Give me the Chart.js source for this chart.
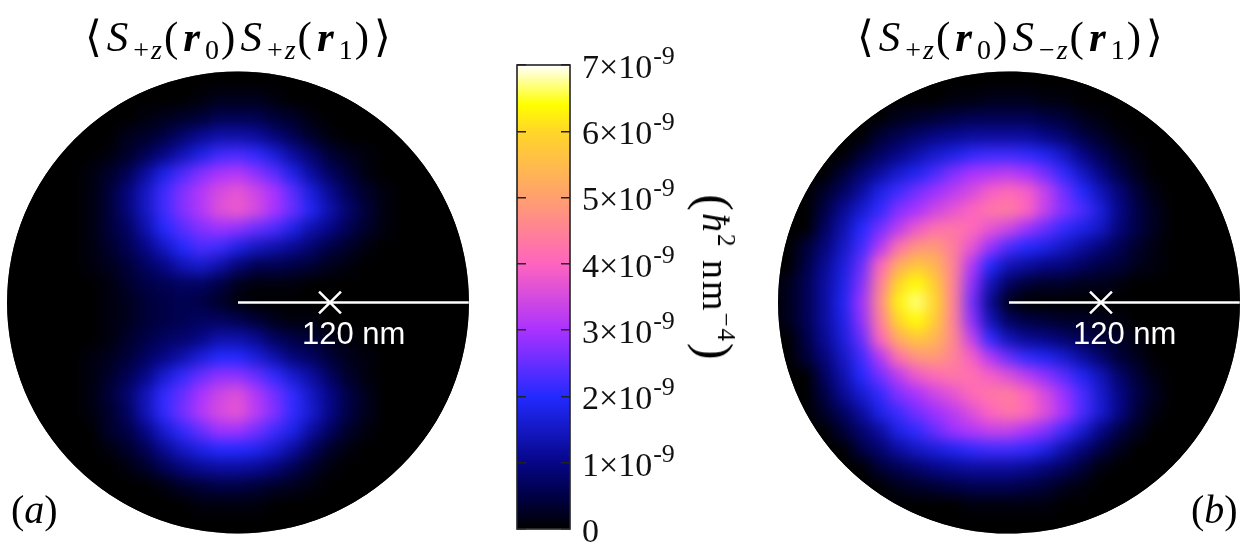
<!DOCTYPE html>
<html><head><meta charset="utf-8">
<script src="https://cdn.jsdelivr.net/npm/chart.js@4"></script>
<style>
html,body{margin:0;padding:0;background:#fff;width:1250px;height:556px;overflow:hidden}
canvas{position:absolute;display:block}
#clip{position:absolute;left:0;top:0;width:1250px;height:556px;background:#000;
clip-path:path("M 7 302.5 a 231 231 0 1 0 462 0 a 231 231 0 1 0 -462 0 Z M 778 302.5 a 231 231 0 1 0 462 0 a 231 231 0 1 0 -462 0 Z")}
#heat{left:0;top:0;filter:blur(7px)}
#over{left:0;top:0}
#bar{left:490px;top:40px}
.t{position:absolute;font-family:"Liberation Serif","DejaVu Serif",serif;color:#000;white-space:nowrap;line-height:1}
.nm{position:absolute;font-family:"Liberation Sans",Arial,sans-serif;color:#fff;font-size:31px;line-height:1;white-space:nowrap}
.t i{font-style:italic}.t b{font-style:italic;font-weight:bold}
.t sub{font-size:28px;vertical-align:baseline;position:relative;top:8px;line-height:0;letter-spacing:2px}
.t sup{font-size:25px;vertical-align:baseline;position:relative;top:-15px;line-height:0}
.ti{letter-spacing:5px}
.par{font-size:50px;vertical-align:baseline;position:relative;top:5px}
</style></head><body>
<div id="clip"><canvas id="heat" width="1250" height="556"></canvas></div>
<canvas id="over" width="1250" height="556"></canvas>
<canvas id="bar" width="240" height="510"></canvas>
<div class="t ti" style="left:85px;top:15px;font-size:43px">⟨<i>S</i><sub>+<i>z</i></sub>(<b>r</b><sub>0</sub>)<i>S</i><sub>+<i>z</i></sub>(<b>r</b><sub>1</sub>)⟩</div>
<div class="t ti" style="left:857px;top:15px;font-size:43px">⟨<i>S</i><sub>+<i>z</i></sub>(<b>r</b><sub>0</sub>)<i>S</i><sub>−<i>z</i></sub>(<b>r</b><sub>1</sub>)⟩</div>
<div class="t" style="left:11px;top:490px;font-size:40px">(<i>a</i>)</div>
<div class="t" style="left:1191px;top:490px;font-size:40px">(<i>b</i>)</div>
<div class="nm" style="left:302px;top:318px">120 nm</div>
<div class="nm" style="left:1073px;top:318px">120 nm</div>
<div class="t" style="left:720px;top:278px;font-size:38px;letter-spacing:2px;transform:translate(-50%,-50%) rotate(90deg)"><span class="par">(</span><i>ħ</i><sup>2</sup> nm<sup>−4</sup><span class="par">)</span></div>
<script>
// Correlation maps, read by eye, in units of 1e-10 (hbar^2 nm^-4). Rows run top to bottom, columns left to right.
const cellSpacingNm = 24;
const mapA = [
[0,0,0,0,0,0,0,0,0,0,0,0,0,0,0,0,0,0,0,0,0,0,0,0,0],
[0,0,0,0,0,0,0,0,0,0,1,2,2,2,1,0,0,0,0,0,0,0,0,0,0],
[0,0,0,0,0,0,0,1,2,3,4,6,6,6,4,3,1,0,0,0,0,0,0,0,0],
[0,0,0,0,0,0,2,3,5,8,11,13,13,12,9,6,3,1,0,0,0,0,0,0,0],
[0,0,0,0,0,1,3,6,10,14,18,22,23,21,17,12,8,4,2,1,0,0,0,0,0],
[0,0,0,0,1,3,6,12,18,23,27,30,31,28,24,18,12,7,4,1,0,0,0,0,0],
[0,0,0,0,1,4,9,15,22,27,31,35,37,34,30,24,17,11,6,3,1,0,0,0,0],
[0,0,0,0,1,4,9,15,22,27,31,36,38,35,30,25,19,13,8,4,1,0,0,0,0],
[0,0,0,0,1,4,7,13,20,24,27,29,28,25,23,18,13,10,6,3,1,0,0,0,0],
[0,0,0,0,1,3,6,10,15,20,23,22,18,15,13,11,8,5,3,1,0,0,0,0,0],
[0,0,0,0,1,2,4,7,10,14,16,13,9,6,6,5,4,2,1,0,0,0,0,0,0],
[0,0,0,0,0,1,3,5,6,7,7,5,2,1,1,1,0,0,0,0,0,0,0,0,0],
[0,0,0,0,0,1,2,4,5,6,5,3,1,0,0,0,0,0,0,0,0,0,0,0,0],
[0,0,0,0,0,1,2,4,5,6,7,7,6,4,2,1,1,0,0,0,0,0,0,0,0],
[0,0,0,0,0,1,3,5,7,8,10,13,13,11,7,5,4,2,1,0,0,0,0,0,0],
[0,0,0,0,1,2,4,7,10,13,17,20,20,17,13,9,7,4,2,1,0,0,0,0,0],
[0,0,0,0,1,3,6,10,16,21,25,28,28,25,21,16,12,7,3,1,0,0,0,0,0],
[0,0,0,0,1,4,8,14,21,25,30,34,36,31,26,21,15,10,5,2,0,0,0,0,0],
[0,0,0,0,1,3,7,14,21,26,31,35,37,32,27,21,16,10,5,2,0,0,0,0,0],
[0,0,0,0,0,3,5,10,16,21,25,29,29,26,22,18,12,7,3,1,0,0,0,0,0],
[0,0,0,0,0,1,3,6,11,15,18,20,20,19,16,12,7,3,1,0,0,0,0,0,0],
[0,0,0,0,0,0,1,3,6,9,11,12,12,11,9,6,3,1,0,0,0,0,0,0,0],
[0,0,0,0,0,0,0,0,1,3,4,5,5,4,3,2,1,0,0,0,0,0,0,0,0],
[0,0,0,0,0,0,0,0,0,0,1,1,1,1,0,0,0,0,0,0,0,0,0,0,0],
[0,0,0,0,0,0,0,0,0,0,0,0,0,0,0,0,0,0,0,0,0,0,0,0,0]
];
const mapB = [
[0,0,0,0,0,0,0,0,0,0,0,0,0,0,0,0,0,0,0,0,0,0,0,0,0],
[0,0,0,0,0,0,0,0,0,1,1,2,2,2,1,1,0,0,0,0,0,0,0,0,0],
[0,0,0,0,0,0,2,3,4,5,6,6,6,6,5,4,2,1,0,0,0,0,0,0,0],
[0,0,0,0,0,4,6,8,10,11,12,12,12,12,10,8,5,3,1,0,0,0,0,0,0],
[0,0,0,0,4,7,10,13,16,18,21,22,22,21,19,15,10,6,3,1,0,0,0,0,0],
[0,0,0,4,8,12,16,19,23,27,30,31,32,30,26,21,15,10,5,2,0,0,0,0,0],
[0,0,3,7,12,18,22,26,29,32,35,39,41,39,33,26,20,14,9,4,1,0,0,0,0],
[0,0,5,11,16,21,27,30,34,37,40,43,44,40,33,27,23,17,10,5,2,0,0,0,0],
[0,0,7,13,20,26,32,38,42,43,41,37,34,29,25,21,18,15,9,5,2,0,0,0,0],
[0,4,9,15,22,31,42,48,49,44,37,29,23,20,18,15,12,9,6,3,1,0,0,0,0],
[0,5,11,17,25,40,52,57,54,45,31,20,14,12,10,9,7,5,4,2,1,0,0,0,0],
[2,6,12,18,27,44,60,64,58,45,28,14,7,4,3,3,2,2,1,0,0,0,0,0,0],
[2,6,12,19,29,46,63,67,60,45,26,11,2,0,0,0,0,0,0,0,0,0,0,0,0],
[2,6,12,18,28,44,60,64,58,45,28,14,7,5,4,3,3,2,1,0,0,0,0,0,0],
[0,5,11,17,25,40,52,57,54,46,33,21,14,11,10,8,6,4,3,1,0,0,0,0,0],
[0,4,9,15,22,31,42,48,49,45,39,31,25,21,19,16,12,8,4,2,0,0,0,0,0],
[0,0,7,13,20,26,32,38,41,43,42,39,36,32,28,24,19,14,8,4,1,0,0,0,0],
[0,0,5,11,16,21,27,30,34,37,41,43,44,40,35,29,23,16,10,5,2,0,0,0,0],
[0,0,3,7,12,18,22,26,29,32,36,40,43,41,36,30,23,16,10,4,1,0,0,0,0],
[0,0,0,4,8,12,18,21,25,29,31,33,33,30,27,22,16,10,5,2,0,0,0,0,0],
[0,0,0,0,5,8,12,15,17,19,21,22,22,21,18,13,9,5,2,0,0,0,0,0,0],
[0,0,0,0,0,4,6,8,10,11,12,12,12,11,9,7,4,1,0,0,0,0,0,0,0],
[0,0,0,0,0,0,2,3,4,5,6,6,6,5,4,2,1,0,0,0,0,0,0,0,0],
[0,0,0,0,0,0,0,0,0,0,1,1,1,1,1,0,0,0,0,0,0,0,0,0,0],
[0,0,0,0,0,0,0,0,0,0,0,0,0,0,0,0,0,0,0,0,0,0,0,0,0]
];
const barTicks = [0,1,2,3,4,5,6,7];               // x 1e-9
const barExponent = '-9';
const stopValues = [0,0.5,1,2,3,4,5,6,6.4,7];
const stopColors = [[0,0,0],[0,0,70],[6,6,135],[35,42,255],[170,50,255],[255,100,190],[255,160,110],[255,215,40],[255,255,0],[255,255,255]];
const crossNm = [120];
const lineEndNm = [301];
const discCentersNm = [0, 1005.6];

const pxPerNm = 92/120, cx0 = 238, cy0 = 302.5;
const xRange = {min:-cx0/pxPerNm, max:(1250-cx0)/pxPerNm};
const yRange = {min:-(556-cy0)/pxPerNm, max:cy0/pxPerNm};
const serif = '"Liberation Serif","DejaVu Serif",serif';

function colorOf(v){
  let i = 0;
  while(i < stopValues.length-2 && v > stopValues[i+1]) i++;
  const t = Math.min(1,(v-stopValues[i])/(stopValues[i+1]-stopValues[i]));
  const c = stopColors[i].map((a,k)=>Math.round(a+(stopColors[i+1][k]-a)*t));
  return `rgb(${c[0]},${c[1]},${c[2]})`;
}
function cells(map, centre){
  return map.flatMap((row,j)=>row.map((v,i)=>({x:centre+(i-12)*cellSpacingNm, y:(12-j)*cellSpacingNm, v})));
}
const hidden = {display:false};
const baseOpts = {
  responsive:false, animation:false, devicePixelRatio:1,
  layout:{padding:0,autoPadding:false},
  plugins:{legend:hidden, title:hidden, tooltip:{enabled:false}},
  scales:{x:{type:'linear',display:false,...xRange}, y:{type:'linear',display:false,...yRange}}
};
const heatData = [cells(mapA,discCentersNm[0]), cells(mapB,discCentersNm[1])];
new Chart(document.getElementById('heat'),{
  type:'scatter',
  data:{datasets:heatData.map(d=>({
    data:d, pointStyle:'rect', pointRadius:13.6, pointBorderWidth:0,
    pointBackgroundColor:d.map(p=>colorOf(p.v/10)), clip:false
  }))},
  options:baseOpts
});
new Chart(document.getElementById('over'),{
  type:'scatter',
  data:{datasets:discCentersNm.flatMap(c=>[
    {data:[{x:c,y:0},{x:c+lineEndNm[0],y:0}],showLine:true,borderColor:'#fff',borderWidth:2.5,pointRadius:0},
    {data:crossNm.map(n=>({x:c+n,y:0})),pointStyle:'crossRot',pointRadius:15.5,pointBorderColor:'#fff',pointBorderWidth:2.5,showLine:false}
  ])},
  options:baseOpts
});
const framePlugin = {id:'frame',afterDatasetsDraw(ch){
  const a=ch.chartArea,c=ch.ctx;c.save();c.strokeStyle='#222';c.lineWidth=1.6;
  c.strokeRect(a.left,a.top,a.right-a.left,a.bottom-a.top);c.restore();
}};
const expPlugin = {id:'exponent',afterDraw(ch){
  const s=ch.scales.y,c=ch.ctx;c.save();
  c.fillStyle='#111';c.textBaseline='middle';c.textAlign='left';
  s.ticks.forEach(t=>{
    if(t.value===0) return;
    c.font=`34px ${serif}`;
    const w=c.measureText(t.value+'×10').width;
    c.font=`26px ${serif}`;
    c.fillText(barExponent,s.right-160+12+w+1,s.getPixelForValue(t.value)-8);
  });
  c.restore();
}};
new Chart(document.getElementById('bar'),{
  type:'bar',
  data:{labels:['c'],datasets:[{
    data:[7],barPercentage:1,categoryPercentage:1,
    backgroundColor(ctx){
      const ch=ctx.chart; if(!ch.chartArea) return '#000';
      const y=ch.scales.y, g=ch.ctx.createLinearGradient(0,y.getPixelForValue(0),0,y.getPixelForValue(7));
      stopValues.forEach((v,i)=>g.addColorStop(v/7,colorOf(v)));
      return g;
    }
  }]},
  plugins:[framePlugin,expPlugin],
  options:{
    responsive:false,animation:false,devicePixelRatio:1,
    layout:{padding:{left:27,top:25,bottom:21,right:0},autoPadding:false},
    plugins:{legend:hidden,title:hidden,tooltip:{enabled:false}},
    scales:{
      x:{display:false},
      y:{position:'right',min:0,max:7,
        afterBuildTicks(s){s.ticks=barTicks.map(v=>({value:v}));},
        afterFit(s){s.width=160;s.paddingTop=0;s.paddingBottom=0;},
        border:{display:false,dash:[9,35,9]},
        grid:{color:'#222',lineWidth:1.4,drawTicks:false,z:1},
        ticks:{padding:12,color:'#111',labelOffset:4,
          font:{family:serif,size:34},
          callback:v=>v===0?'0':v+'×10'}
      }
    }
  }
});
</script>
</body></html>
